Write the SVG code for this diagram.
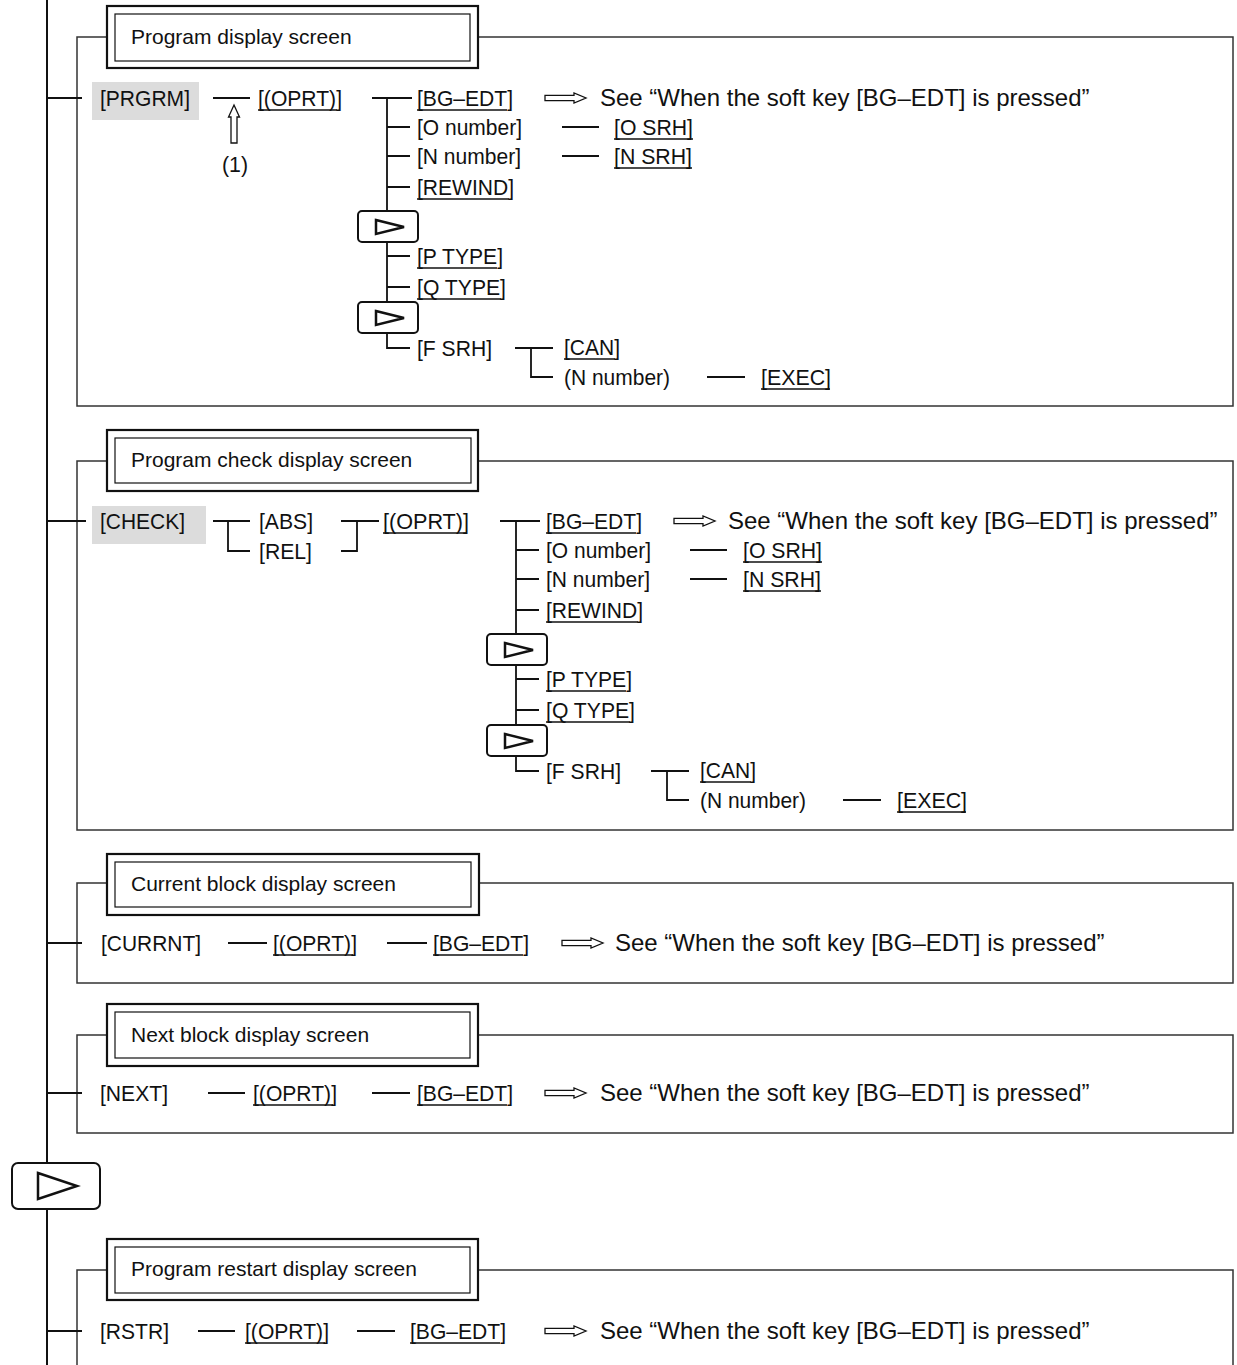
<svg xmlns="http://www.w3.org/2000/svg" width="1237" height="1365" viewBox="0 0 1237 1365">
<style>
text{font-family:"Liberation Sans",Arial,Helvetica,sans-serif;font-size:22.5px;fill:#111}
.h{font-size:21px}
.s{font-size:24px}
.ln{stroke:#111;stroke-width:1.8;fill:none}
.mn{stroke:#111;stroke-width:2;fill:none}
.fr{stroke:#333;stroke-width:1.5;fill:none}
.ul{stroke:#111;stroke-width:1.3}
.ob{fill:#fff;stroke:#111;stroke-width:2.2}
.ib{fill:none;stroke:#111;stroke-width:1.2}
.key{fill:#fff;stroke:#111;stroke-width:2}
.tri{fill:none;stroke:#111;stroke-width:2.5;stroke-linejoin:miter}
.hl{fill:#dcdcdc}
.ar{fill:#fff;stroke:#111;stroke-width:1.3}
</style>
<defs>
<g id="dbl"><path class="ar" d="M0,-2.6 H29 V-5 L41,0 L29,5 V2.6 H0 Z"/></g>
<g id="skey"><rect class="key" x="0" y="0" width="60" height="31" rx="4"/><path class="tri" d="M18,9 L46,16 L18,23 Z"/></g>
</defs>

<g id="frames">
<rect class="fr" x="77" y="37" width="1156" height="369"/>
<rect class="fr" x="77" y="461" width="1156" height="369"/>
<rect class="fr" x="77" y="883" width="1156" height="100"/>
<rect class="fr" x="77" y="1035" width="1156" height="98"/>
<path class="fr" d="M107,1270 H77 V1366 M478,1270 H1233 V1366"/>
</g>

<g id="connectors">
<path class="mn" d="M47,0 V1163 M47,1209 V1365"/>
<!-- section 1 -->
<path class="ln" d="M47,98 H82 M213,98 H250 M372,98 H412 M387,98 V348 H410 M387,127 H410 M387,156 H410 M387,187 H410 M387,256 H410 M387,287 H410 M562,127 H599 M562,156 H599 M515,348 H553 M531,348 V377 H553 M707,377 H745"/>
<path class="ar" d="M234,105 L239.5,117 H237 V143 H231 V117 H228.5 Z"/>
<use href="#dbl" x="545" y="98"/>
<!-- section 2 -->
<path class="ln" d="M47,521 H86 M213,521 H250 M228,521 V551 H250 M341,521 H379 M357,521 V551 H341 M500,521 H540 M516,521 V771 H539 M516,550 H539 M516,579 H539 M516,610 H539 M516,679 H539 M516,710 H539 M690,550 H727 M690,579 H727 M651,771 H689 M667,771 V800 H689 M843,800 H881"/>
<use href="#dbl" x="674" y="521"/>
<!-- section 3 -->
<path class="ln" d="M47,943 H82 M228,943 H267 M387,943 H427"/>
<use href="#dbl" x="562" y="943"/>
<!-- section 4 -->
<path class="ln" d="M47,1093 H82 M208,1093 H245 M372,1093 H410"/>
<use href="#dbl" x="545" y="1093"/>
<!-- section 5 -->
<path class="ln" d="M47,1331 H82 M198,1331 H235 M357,1331 H395"/>
<use href="#dbl" x="545" y="1331"/>
</g>

<g id="key-main">
<rect class="key" x="12" y="1163" width="88" height="46" rx="6"/>
<path class="tri" d="M38,1173 L77,1186 L38,1199 Z"/>
</g>

<g id="sec1-title">
<rect class="ob" x="107" y="6" width="371" height="62"/>
<rect class="ib" x="115" y="14" width="355" height="47"/>
<text class="h" x="131" y="44">Program display screen</text>
</g>
<g id="sec1-nodes">
<rect class="hl" x="92" y="82" width="107" height="38"/>
<text x="100" y="106" textLength="90" lengthAdjust="spacingAndGlyphs">[PRGRM]</text>
<text x="258" y="106" textLength="84" lengthAdjust="spacingAndGlyphs">[(OPRT)]</text><line class="ul" x1="258" y1="110" x2="337" y2="110"/>
<text x="222" y="172" textLength="26" lengthAdjust="spacingAndGlyphs">(1)</text>
<use href="#skey" x="358" y="211"/>
<use href="#skey" x="358" y="302"/>
<text x="417" y="106" textLength="96" lengthAdjust="spacingAndGlyphs">[BG–EDT]</text><line class="ul" x1="417" y1="110" x2="507" y2="110"/>
<text class="s" x="600" y="106">See “When the soft key [BG–EDT] is pressed”</text>
<text x="417" y="135" textLength="105" lengthAdjust="spacingAndGlyphs">[O number]</text>
<text x="614" y="135" textLength="79" lengthAdjust="spacingAndGlyphs">[O SRH]</text><line class="ul" x1="614" y1="139" x2="693" y2="139"/>
<text x="417" y="164" textLength="104" lengthAdjust="spacingAndGlyphs">[N number]</text>
<text x="614" y="164" textLength="78" lengthAdjust="spacingAndGlyphs">[N SRH]</text><line class="ul" x1="614" y1="168" x2="692" y2="168"/>
<text x="417" y="195" textLength="97" lengthAdjust="spacingAndGlyphs">[REWIND]</text><line class="ul" x1="417" y1="199" x2="509" y2="199"/>
<text x="417" y="264" textLength="86" lengthAdjust="spacingAndGlyphs">[P TYPE]</text><line class="ul" x1="417" y1="268" x2="497" y2="268"/>
<text x="417" y="295" textLength="89" lengthAdjust="spacingAndGlyphs">[Q TYPE]</text><line class="ul" x1="417" y1="299" x2="501" y2="299"/>
<text x="417" y="356" textLength="75" lengthAdjust="spacingAndGlyphs">[F SRH]</text>
<text x="564" y="355" textLength="56" lengthAdjust="spacingAndGlyphs">[CAN]</text><line class="ul" x1="564" y1="359" x2="615" y2="359"/>
<text x="564" y="385" textLength="106" lengthAdjust="spacingAndGlyphs">(N number)</text>
<text x="761" y="385" textLength="70" lengthAdjust="spacingAndGlyphs">[EXEC]</text><line class="ul" x1="761" y1="389" x2="830" y2="389"/>
</g>

<g id="sec2-title">
<rect class="ob" x="107" y="430" width="371" height="61"/>
<rect class="ib" x="115" y="438" width="356" height="45"/>
<text class="h" x="131" y="467">Program check display screen</text>
</g>
<g id="sec2-nodes">
<rect class="hl" x="92" y="506" width="114" height="38"/>
<text x="100" y="529" textLength="85" lengthAdjust="spacingAndGlyphs">[CHECK]</text>
<text x="259" y="529" textLength="54" lengthAdjust="spacingAndGlyphs">[ABS]</text>
<text x="259" y="559" textLength="53" lengthAdjust="spacingAndGlyphs">[REL]</text>
<text x="383" y="529" textLength="86" lengthAdjust="spacingAndGlyphs">[(OPRT)]</text><line class="ul" x1="383" y1="533" x2="466" y2="533"/>
<use href="#skey" x="487" y="634"/>
<use href="#skey" x="487" y="725"/>
<text x="546" y="529" textLength="96" lengthAdjust="spacingAndGlyphs">[BG–EDT]</text><line class="ul" x1="546" y1="533" x2="636" y2="533"/>
<text class="s" x="728" y="529">See “When the soft key [BG–EDT] is pressed”</text>
<text x="546" y="558" textLength="105" lengthAdjust="spacingAndGlyphs">[O number]</text>
<text x="743" y="558" textLength="79" lengthAdjust="spacingAndGlyphs">[O SRH]</text><line class="ul" x1="743" y1="562" x2="822" y2="562"/>
<text x="546" y="587" textLength="104" lengthAdjust="spacingAndGlyphs">[N number]</text>
<text x="743" y="587" textLength="78" lengthAdjust="spacingAndGlyphs">[N SRH]</text><line class="ul" x1="743" y1="591" x2="821" y2="591"/>
<text x="546" y="618" textLength="97" lengthAdjust="spacingAndGlyphs">[REWIND]</text><line class="ul" x1="546" y1="622" x2="638" y2="622"/>
<text x="546" y="687" textLength="86" lengthAdjust="spacingAndGlyphs">[P TYPE]</text><line class="ul" x1="546" y1="691" x2="626" y2="691"/>
<text x="546" y="718" textLength="89" lengthAdjust="spacingAndGlyphs">[Q TYPE]</text><line class="ul" x1="546" y1="722" x2="630" y2="722"/>
<text x="546" y="779" textLength="75" lengthAdjust="spacingAndGlyphs">[F SRH]</text>
<text x="700" y="778" textLength="56" lengthAdjust="spacingAndGlyphs">[CAN]</text><line class="ul" x1="700" y1="782" x2="751" y2="782"/>
<text x="700" y="808" textLength="106" lengthAdjust="spacingAndGlyphs">(N number)</text>
<text x="897" y="808" textLength="70" lengthAdjust="spacingAndGlyphs">[EXEC]</text><line class="ul" x1="897" y1="812" x2="966" y2="812"/>
</g>

<g id="sec3-title">
<rect class="ob" x="107" y="854" width="372" height="61"/>
<rect class="ib" x="115" y="862" width="356" height="45"/>
<text class="h" x="131" y="891">Current block display screen</text>
</g>
<g id="sec3-nodes">
<text x="101" y="951" textLength="100" lengthAdjust="spacingAndGlyphs">[CURRNT]</text>
<text x="273" y="951" textLength="84" lengthAdjust="spacingAndGlyphs">[(OPRT)]</text><line class="ul" x1="273" y1="955" x2="353" y2="955"/>
<text x="433" y="951" textLength="96" lengthAdjust="spacingAndGlyphs">[BG–EDT]</text><line class="ul" x1="433" y1="955" x2="523" y2="955"/>
<text class="s" x="615" y="951">See “When the soft key [BG–EDT] is pressed”</text>
</g>

<g id="sec4-title">
<rect class="ob" x="107" y="1004" width="371" height="62"/>
<rect class="ib" x="115" y="1012" width="355" height="46"/>
<text class="h" x="131" y="1042">Next block display screen</text>
</g>
<g id="sec4-nodes">
<text x="100" y="1101" textLength="68" lengthAdjust="spacingAndGlyphs">[NEXT]</text>
<text x="253" y="1101" textLength="84" lengthAdjust="spacingAndGlyphs">[(OPRT)]</text><line class="ul" x1="253" y1="1105" x2="333" y2="1105"/>
<text x="417" y="1101" textLength="96" lengthAdjust="spacingAndGlyphs">[BG–EDT]</text><line class="ul" x1="417" y1="1105" x2="507" y2="1105"/>
<text class="s" x="600" y="1101">See “When the soft key [BG–EDT] is pressed”</text>
</g>

<g id="sec5-title">
<rect class="ob" x="107" y="1239" width="371" height="61"/>
<rect class="ib" x="115" y="1247" width="355" height="46"/>
<text class="h" x="131" y="1276">Program restart display screen</text>
</g>
<g id="sec5-nodes">
<text x="100" y="1339" textLength="69" lengthAdjust="spacingAndGlyphs">[RSTR]</text>
<text x="245" y="1339" textLength="84" lengthAdjust="spacingAndGlyphs">[(OPRT)]</text><line class="ul" x1="245" y1="1343" x2="325" y2="1343"/>
<text x="410" y="1339" textLength="96" lengthAdjust="spacingAndGlyphs">[BG–EDT]</text><line class="ul" x1="410" y1="1343" x2="500" y2="1343"/>
<text class="s" x="600" y="1339">See “When the soft key [BG–EDT] is pressed”</text>
</g>
</svg>
